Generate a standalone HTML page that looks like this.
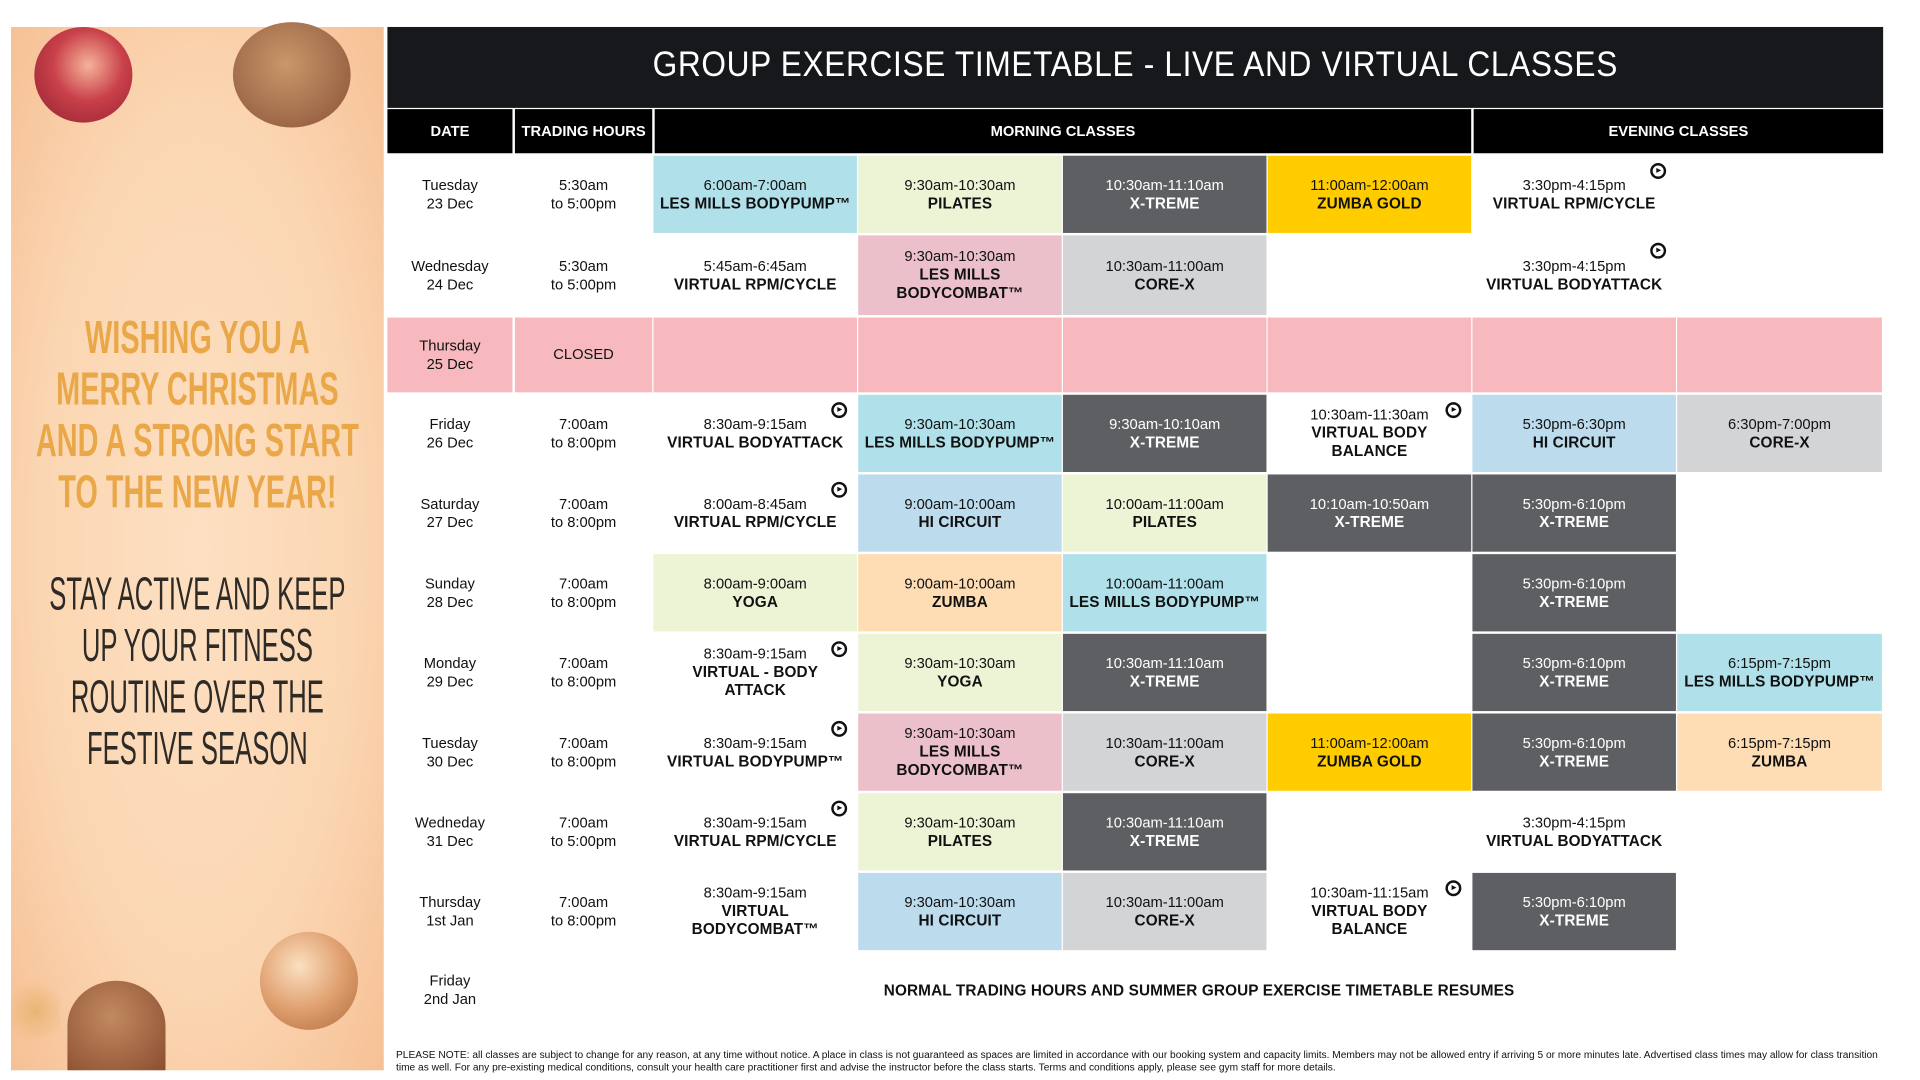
<!DOCTYPE html>
<html><head><meta charset="utf-8">
<style>
html,body{margin:0;padding:0;background:#fff;width:1920px;height:1080px;overflow:hidden}
#s{position:absolute;left:0;top:0;width:1566px;height:881px;transform-origin:0 0;transform:scale(1.226,1.226);font-family:"Liberation Sans",sans-serif}
.a{position:absolute}
.c{position:absolute;display:flex;flex-direction:column;align-items:center;justify-content:center;text-align:center;font-size:12px;line-height:15px;color:#111}
.c b{font-size:12.5px;letter-spacing:0.1px}
.ic{position:absolute;width:9px;height:9px;border:2px solid #111;border-radius:50%}
.ic:after{content:"";position:absolute;left:3px;top:2px;border-left:4px solid #111;border-top:2.5px solid transparent;border-bottom:2.5px solid transparent}
.hd{position:absolute;top:89px;height:36px;background:#000;color:#fff;font-size:12px;font-weight:bold;display:flex;align-items:center;justify-content:center}
.pl{position:absolute;text-align:center;left:-139px;width:600px;white-space:nowrap;transform-origin:300px 0}
</style></head><body><div id="s">
<div class="a" style="left:9px;top:22px;width:304px;height:851px;background:radial-gradient(ellipse at 50% 50%,#fde0c2 0%,#fbd6b2 60%,#f6c095 100%)"></div>
<div class="a" style="left:28px;top:22px;width:80px;height:78px;border-radius:50%;background:radial-gradient(circle at 55% 40%,#f5b39a 0%,#c9404a 45%,#8e2030 100%)"></div>
<div class="a" style="left:190px;top:18px;width:96px;height:86px;border-radius:50%;background:radial-gradient(circle at 45% 40%,#c9976a,#8a5238)"></div>
<div class="a" style="left:212px;top:760px;width:80px;height:80px;border-radius:50%;background:radial-gradient(circle at 40% 35%,#fbe0c0,#e0a070 50%,#b06a3a)"></div>
<div class="a" style="left:55px;top:800px;width:80px;height:73px;border-radius:50% 50% 0 0;background:radial-gradient(circle at 45% 40%,#c28a60,#8a4e30)"></div>
<div class="a" style="left:9px;top:795px;width:40px;height:60px;background:radial-gradient(circle,#e9b574,transparent 70%)"></div>
<div class="pl" style="top:255px;color:#e9a748;font-weight:bold;font-size:38px;line-height:42px;transform:scaleX(0.62)">WISHING YOU A<br>MERRY CHRISTMAS<br>AND A STRONG START<br>TO THE NEW YEAR!</div>
<div class="pl" style="top:464px;color:#2e2a26;font-size:38px;line-height:42px;transform:scaleX(0.55)">STAY ACTIVE AND KEEP<br>UP YOUR FITNESS<br>ROUTINE OVER THE<br>FESTIVE SEASON</div>
<div class="a" style="left:316px;top:22px;width:1220px;height:66px;background:#16181b"></div>
<div class="a" style="left:316px;top:37px;width:1220px;text-align:center;color:#fff;font-size:29px;letter-spacing:0.6px;white-space:nowrap;transform:scaleX(0.89);transform-origin:610px 0">GROUP EXERCISE TIMETABLE - LIVE AND VIRTUAL CLASSES</div>
<div class="hd" style="left:316px;width:102px">DATE</div>
<div class="hd" style="left:420px;width:112px">TRADING HOURS</div>
<div class="hd" style="left:534px;width:666px">MORNING CLASSES</div>
<div class="hd" style="left:1202px;width:334px">EVENING CLASSES</div>
<div id="g"></div>
<div class="a" style="left:323px;top:855px;width:1225px;font-size:8.3px;line-height:10px;color:#111">PLEASE NOTE: all classes are subject to change for any reason, at any time without notice. A place in class is not guaranteed as spaces are limited in accordance with our booking system and capacity limits. Members may not be allowed entry if arriving 5 or more minutes late. Advertised class times may allow for class transition time as well. For any pre-existing medical conditions, consult your health care practitioner first and advise the instructor before the class starts. Terms and conditions apply, please see gym staff for more details.</div>
</div>
<script>
var C={lb:"#b0e1ea",lg:"#edf3d5",dg:"#5e5f62",y:"#ffcc00",pk:"#ebc0cb",gy:"#d3d4d6",hb:"#bcdcee",pe:"#fedcb4",w:"#fff"};
var tops=[127,192,259,322,387,452,517,582,647,712,777,842];
var xs=[533,700,867,1034,1201,1368,1536];
var R=[
["Tuesday<br>23 Dec","5:30am<br>to 5:00pm",[["lb","6:00am-7:00am","LES MILLS BODYPUMP™"],["lg","9:30am-10:30am","PILATES"],["dg","10:30am-11:10am","X-TREME"],["y","11:00am-12:00am","ZUMBA GOLD"],["w","3:30pm-4:15pm","VIRTUAL RPM/CYCLE",1]]],
["Wednesday<br>24 Dec","5:30am<br>to 5:00pm",[["w","5:45am-6:45am","VIRTUAL RPM/CYCLE"],["pk","9:30am-10:30am","LES MILLS<br>BODYCOMBAT™"],["gy","10:30am-11:00am","CORE-X"],null,["w","3:30pm-4:15pm","VIRTUAL BODYATTACK",1]]],
null,
["Friday<br>26 Dec","7:00am<br>to 8:00pm",[["w","8:30am-9:15am","VIRTUAL BODYATTACK",1],["lb","9:30am-10:30am","LES MILLS BODYPUMP™"],["dg","9:30am-10:10am","X-TREME"],["w","10:30am-11:30am","VIRTUAL BODY<br>BALANCE",1],["hb","5:30pm-6:30pm","HI CIRCUIT"],["gy","6:30pm-7:00pm","CORE-X"]]],
["Saturday<br>27 Dec","7:00am<br>to 8:00pm",[["w","8:00am-8:45am","VIRTUAL RPM/CYCLE",1],["hb","9:00am-10:00am","HI CIRCUIT"],["lg","10:00am-11:00am","PILATES"],["dg","10:10am-10:50am","X-TREME"],["dg","5:30pm-6:10pm","X-TREME"]]],
["Sunday<br>28 Dec","7:00am<br>to 8:00pm",[["lg","8:00am-9:00am","YOGA"],["pe","9:00am-10:00am","ZUMBA"],["lb","10:00am-11:00am","LES MILLS BODYPUMP™"],null,["dg","5:30pm-6:10pm","X-TREME"]]],
["Monday<br>29 Dec","7:00am<br>to 8:00pm",[["w","8:30am-9:15am","VIRTUAL - BODY<br>ATTACK",1],["lg","9:30am-10:30am","YOGA"],["dg","10:30am-11:10am","X-TREME"],null,["dg","5:30pm-6:10pm","X-TREME"],["lb","6:15pm-7:15pm","LES MILLS BODYPUMP™"]]],
["Tuesday<br>30 Dec","7:00am<br>to 8:00pm",[["w","8:30am-9:15am","VIRTUAL BODYPUMP™",1],["pk","9:30am-10:30am","LES MILLS<br>BODYCOMBAT™"],["gy","10:30am-11:00am","CORE-X"],["y","11:00am-12:00am","ZUMBA GOLD"],["dg","5:30pm-6:10pm","X-TREME"],["pe","6:15pm-7:15pm","ZUMBA"]]],
["Wedneday<br>31 Dec","7:00am<br>to 5:00pm",[["w","8:30am-9:15am","VIRTUAL RPM/CYCLE",1],["lg","9:30am-10:30am","PILATES"],["dg","10:30am-11:10am","X-TREME"],null,["w","3:30pm-4:15pm","VIRTUAL BODYATTACK"]]],
["Thursday<br>1st Jan","7:00am<br>to 8:00pm",[["w","8:30am-9:15am","VIRTUAL<br>BODYCOMBAT™"],["hb","9:30am-10:30am","HI CIRCUIT"],["gy","10:30am-11:00am","CORE-X"],["w","10:30am-11:15am","VIRTUAL BODY<br>BALANCE",1],["dg","5:30pm-6:10pm","X-TREME"]]]
];
var h="";
function cell(x,y,w,hh,bg,html,col){h+='<div class="c" style="left:'+x+'px;top:'+y+'px;width:'+w+'px;height:'+hh+'px;background:'+bg+';color:'+(col||"#111")+'">'+html+'</div>';}
for(var i=0;i<10;i++){
 var y=tops[i],hh=tops[i+1]-y-2;
 if(i==2){cell(316,y,102,hh,"#f7b9be","<span>Thursday<br>25 Dec</span>");cell(420,y,112,hh,"#f7b9be","<span>CLOSED</span>");
  for(var k=0;k<6;k++)cell(xs[k],y,xs[k+1]-xs[k]-1,hh,"#f7b9be","");continue;}
 var r=R[i];
 cell(316,y,102,hh,"#fff","<span>"+r[0]+"</span>");
 cell(420,y,112,hh,"#fff","<span>"+r[1]+"</span>");
 r[2].forEach(function(c,k){if(!c)return;var d=c[0]=="dg";
  cell(xs[k],y,xs[k+1]-xs[k]-1,hh,C[c[0]],"<span>"+c[1]+"</span><b>"+c[2]+"</b>",d?"#fff":"#111");
  if(c[3])h+='<div class="ic" style="left:'+(xs[k+1]-22)+'px;top:'+(y+6)+'px"></div>';});
}
cell(316,777,102,62,"#fff","<span>Friday<br>2nd Jan</span>");
cell(533,777,890,62,"#fff","<b>NORMAL TRADING HOURS AND SUMMER GROUP EXERCISE TIMETABLE RESUMES</b>");
document.getElementById("g").innerHTML=h;
</script>
</body></html>
